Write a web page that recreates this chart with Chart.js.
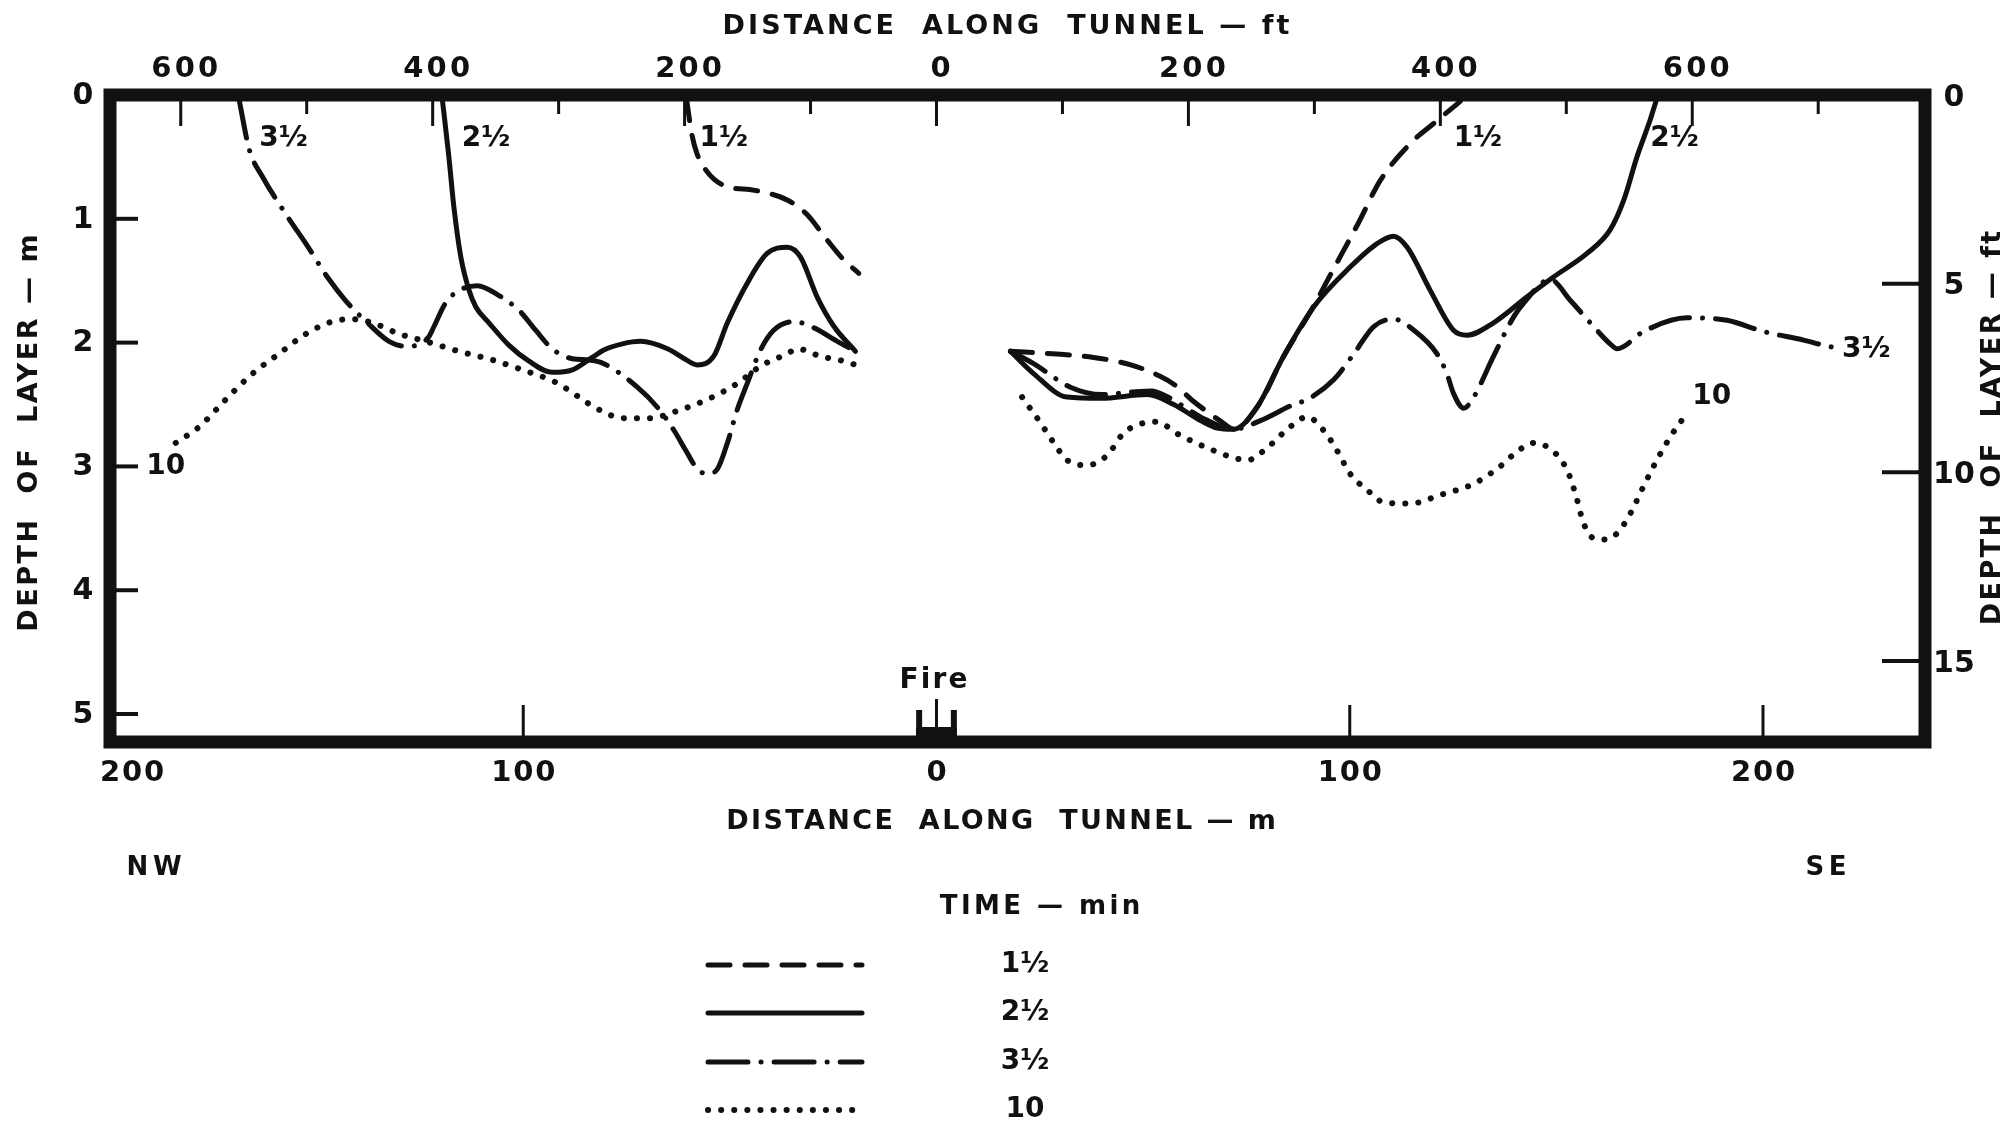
<!DOCTYPE html>
<html>
<head>
<meta charset="utf-8">
<script src="https://cdn.jsdelivr.net/npm/chart.js@4.4.1/dist/chart.umd.min.js"></script>
<style>
  html, body { margin: 0; padding: 0; background: #fff; }
  #wrap { width: 2013px; height: 1129px; }
</style>
</head>
<body>
<div id="wrap"><canvas id="chart" width="2013" height="1129"></canvas></div>
<script>
// distance along tunnel (m, NW negative) and depth of layer (m)
const FT = 3.28084
const X_MIN = -200
const X_MAX = 239.2
const Y_MAX = 5.226

// 1 1/2 min
const t15NwX = [-60.5, -59.3, -58, -55.5, -51.5, -44, -36, -31.5, -26.5, -22.5, -18.8]
const t15NwY = [0.03, 0.3, 0.47, 0.62, 0.73, 0.77, 0.85, 0.96, 1.17, 1.33, 1.44]
const t15SeX = [17.9, 28, 38, 47, 54, 58, 62, 66, 69, 72, 78, 84, 91, 96, 102, 107.4, 114.7, 120.3, 126.8]
const t15SeY = [2.07, 2.09, 2.12, 2.18, 2.27, 2.35, 2.47, 2.57, 2.64, 2.7, 2.5, 2.11, 1.72, 1.41, 1.04, 0.69, 0.39, 0.23, 0.05]

// 2 1/2 min
const t25NwX = [-119.6, -118, -116.8, -115.1, -113.1, -111.5, -108.3, -103.5, -98.6, -93, -88.1, -83.3, -80.5, -76, -71.6, -65.1, -61, -57.9, -53.9, -50.6, -45.8, -41, -36.1, -32.9, -28.9, -24.8, -19.6]
const t25NwY = [0.03, 0.5, 0.9, 1.31, 1.58, 1.71, 1.84, 2.02, 2.15, 2.24, 2.22, 2.12, 2.06, 2.01, 1.99, 2.05, 2.13, 2.18, 2.11, 1.84, 1.52, 1.28, 1.23, 1.31, 1.63, 1.87, 2.07]
const t25SeX = [17.9, 23.5, 31.6, 39.7, 51, 57.4, 63.9, 67.9, 71.9, 77.6, 84, 91.3, 100.1, 106.6, 110.6, 113.9, 119.5, 125.1, 128.4, 134.8, 142.9, 149.3, 157.4, 163, 166.3, 169.5, 172.7, 174.3]
const t25SeY = [2.07, 2.25, 2.44, 2.45, 2.42, 2.5, 2.63, 2.69, 2.7, 2.52, 2.11, 1.71, 1.39, 1.2, 1.14, 1.23, 1.58, 1.9, 1.94, 1.84, 1.63, 1.47, 1.28, 1.09, 0.85, 0.5, 0.2, 0.03]

// 3 1/2 min
const t35NwX = [-168.8, -166.3, -163.1, -157.1, -152.6, -147.4, -143, -137.7, -132.5, -128.4, -125.6, -122.8, -121.6, -118.8, -115.6, -111.1, -105.9, -101, -97, -93, -88.1, -84.1, -80.5, -72.4, -67.6, -63.5, -60.7, -57.9, -55.5, -53, -50.6, -48.2, -45.8, -42.6, -39.4, -34.5, -29.7, -24, -19.6]
const t35NwY = [0.03, 0.44, 0.66, 0.98, 1.2, 1.47, 1.66, 1.84, 1.99, 2.03, 2.02, 1.95, 1.87, 1.68, 1.58, 1.54, 1.62, 1.74, 1.9, 2.05, 2.13, 2.14, 2.17, 2.36, 2.52, 2.71, 2.87, 3.02, 3.06, 3.02, 2.81, 2.54, 2.33, 2.06, 1.9, 1.83, 1.88, 1.99, 2.07]
const t35SeX = [17.9, 23.5, 32.4, 40, 47, 52, 56, 60, 65, 71.9, 78.4, 86.4, 89.7, 96.1, 101, 105.8, 110.6, 115.5, 121.1, 123.5, 125.1, 127.6, 130, 134.8, 139.7, 142.1, 148.5, 153.4, 158.2, 163, 164.7, 171.1, 181.6, 191.3, 200.1, 209.8, 215.8, 219.5]
const t35SeY = [2.07, 2.17, 2.36, 2.42, 2.4, 2.39, 2.44, 2.52, 2.62, 2.7, 2.63, 2.5, 2.46, 2.3, 2.09, 1.87, 1.81, 1.9, 2.09, 2.25, 2.41, 2.53, 2.44, 2.11, 1.79, 1.68, 1.49, 1.66, 1.84, 2.01, 2.05, 1.91, 1.8, 1.82, 1.91, 1.98, 2.03, 2.05]

// 10 min
const t10NwX = [-184.1, -178.4, -172, -165.5, -159.1, -152.6, -146.2, -141.3, -136.5, -130, -123.6, -115.6, -107.5, -100.2, -92.2, -86.5, -82.9, -75.6, -69.2, -63.5, -55.5, -48.2, -42.6, -36.1, -33.7, -28.1, -22.4, -19.6]
const t10NwY = [2.81, 2.68, 2.46, 2.25, 2.09, 1.93, 1.83, 1.81, 1.84, 1.93, 1.99, 2.07, 2.14, 2.22, 2.32, 2.44, 2.52, 2.61, 2.61, 2.56, 2.46, 2.33, 2.19, 2.09, 2.05, 2.11, 2.15, 2.18]
const t10SeX = [20.7, 25.2, 28.4, 31.6, 36.5, 41.3, 45.3, 50.1, 53, 59, 65.5, 71.9, 75.2, 80, 85.6, 89.7, 93.7, 96.9, 100.1, 104.2, 108.2, 114.7, 121.9, 130, 136.4, 140.5, 144.5, 149.3, 152.6, 154.6, 156.6, 159, 161.8, 164.7, 167.9, 171.1, 174.3, 177.6, 181.6]
const t10SeY = [2.44, 2.65, 2.81, 2.95, 2.99, 2.91, 2.73, 2.65, 2.64, 2.75, 2.85, 2.93, 2.95, 2.85, 2.68, 2.6, 2.71, 2.87, 3.06, 3.19, 3.29, 3.3, 3.23, 3.14, 3.0, 2.88, 2.81, 2.88, 3.03, 3.22, 3.46, 3.58, 3.59, 3.54, 3.38, 3.16, 2.95, 2.76, 2.57]

// ticks and labels
const topTicksFt = [-600, -500, -400, -300, -200, -100, 0, 100, 200, 300, 400, 500, 600, 700]
const topLabelsFt = [-600, -400, -200, 0, 200, 400, 600]
const bottomTicksM = [-100, 100, 200]
const bottomLabelsM = [-200, -100, 0, 100, 200]
const leftTicksM = [1, 2, 3, 4, 5]
const leftLabelsM = [0, 1, 2, 3, 4, 5]
const rightTicksFt = [5, 10, 15]
const rightLabelsFt = [0, 5, 10, 15]
const timeLabels = ['1½', '2½', '3½', '10']

const FONT = '"DejaVu Sans", sans-serif'
const INK = '#111'

function pts(xs, ys) {
    return xs.map((x, i) => ({ x: x, y: ys[i] }))
}

const styles = [
    { borderWidth: 5, borderDash: [22, 15], borderCapStyle: 'round' },
    { borderWidth: 5, borderDash: [], borderCapStyle: 'round' },
    { borderWidth: 5, borderDash: [40, 13, 0.1, 13], borderCapStyle: 'round' },
    { borderWidth: 6, borderDash: [0.1, 13], borderCapStyle: 'round' },
]

function series(label, data, st) {
    return {
        label: label, data: data, borderColor: INK, backgroundColor: INK,
        borderWidth: st.borderWidth, borderDash: st.borderDash, borderCapStyle: st.borderCapStyle,
        borderJoinStyle: 'round', pointRadius: 0, fill: false,
        cubicInterpolationMode: 'monotone', xAxisID: 'x', yAxisID: 'y'
    }
}

function spacedText(ctx, text, x, y, size, width, angle) {
    ctx.save()
    ctx.translate(x, y)
    if (angle) ctx.rotate(angle)
    ctx.font = `bold ${size}px ${FONT}`
    ctx.textAlign = 'center'
    ctx.textBaseline = 'middle'
    ctx.fillStyle = INK
    if (width && 'letterSpacing' in ctx) {
        ctx.letterSpacing = '0px'
        const w = ctx.measureText(text).width
        const ls = (width - w) / text.length
        ctx.letterSpacing = ls + 'px'
        ctx.translate(ls / 2, 0)
    }
    ctx.fillText(text, 0, 0)
    ctx.restore()
}

const decor = {
    id: 'decor',
    beforeDraw(chart) {
        const ctx = chart.ctx
        ctx.save()
        ctx.fillStyle = '#fff'
        ctx.fillRect(0, 0, chart.width, chart.height)
        ctx.restore()
    },
    afterDraw(chart) {
        const ctx = chart.ctx
        const a = chart.chartArea
        const sx = chart.scales.x, sy = chart.scales.y
        const sxf = chart.scales.xft, syf = chart.scales.yft
        ctx.save()
        ctx.strokeStyle = INK
        ctx.lineCap = 'butt'

        // frame
        ctx.lineWidth = 13
        ctx.strokeRect(a.left, a.top, a.right - a.left, a.bottom - a.top)

        // inward ticks
        ctx.lineWidth = 3
        topTicksFt.forEach(v => {
            const px = sxf.getPixelForValue(v)
            const len = v % 200 === 0 ? 31 : 19
            ctx.beginPath(); ctx.moveTo(px, a.top); ctx.lineTo(px, a.top + len); ctx.stroke()
        })
        bottomTicksM.forEach(v => {
            const px = sx.getPixelForValue(v)
            ctx.beginPath(); ctx.moveTo(px, a.bottom); ctx.lineTo(px, a.bottom - 37); ctx.stroke()
        })
        ctx.lineWidth = 4
        leftTicksM.forEach(v => {
            const py = sy.getPixelForValue(v)
            ctx.beginPath(); ctx.moveTo(a.left, py); ctx.lineTo(a.left + 28, py); ctx.stroke()
        })
        rightTicksFt.forEach(v => {
            const py = syf.getPixelForValue(v)
            ctx.beginPath(); ctx.moveTo(a.right, py); ctx.lineTo(a.right - 43, py); ctx.stroke()
        })

        // fire marker at 0 m
        const f0 = sx.getPixelForValue(0)
        const fl = sx.getPixelForValue(-4.2), fr = sx.getPixelForValue(4.2)
        ctx.lineWidth = 3
        ctx.beginPath(); ctx.moveTo(f0, a.bottom); ctx.lineTo(f0, a.bottom - 43); ctx.stroke()
        ctx.lineWidth = 6
        ctx.beginPath(); ctx.moveTo(fl, a.bottom); ctx.lineTo(fl, a.bottom - 32); ctx.stroke()
        ctx.beginPath(); ctx.moveTo(fr, a.bottom); ctx.lineTo(fr, a.bottom - 32); ctx.stroke()
        ctx.fillStyle = INK
        ctx.fillRect(fl - 3, a.bottom - 15, fr - fl + 6, 15)
        spacedText(ctx, 'Fire', f0 - 3, a.bottom - 61, 28, 70)

        // tick labels
        topLabelsFt.forEach(v => {
            spacedText(ctx, String(Math.abs(v)), sxf.getPixelForValue(v) + 4, a.top - 26, 29, v === 0 ? 0 : 70)
        })
        bottomLabelsM.forEach(v => {
            const px = Math.max(sx.getPixelForValue(v), a.left + 22)
            spacedText(ctx, String(Math.abs(v)), px, a.bottom + 31, 29, v === 0 ? 0 : 66)
        })
        leftLabelsM.forEach(v => {
            spacedText(ctx, String(v), a.left - 27, sy.getPixelForValue(v) + 1, 30)
        })
        rightLabelsFt.forEach(v => {
            spacedText(ctx, String(v), a.right + 29, syf.getPixelForValue(v) + 3, 30, v >= 10 ? 42 : 0)
        })

        // axis titles
        spacedText(ctx, 'DISTANCE  ALONG  TUNNEL — ft', 1006, 27, 27, 570)
        spacedText(ctx, 'DISTANCE  ALONG  TUNNEL — m', 1001, 822, 27, 552)
        spacedText(ctx, 'DEPTH  OF  LAYER — m', 30, 433, 27, 400, -Math.PI / 2)
        spacedText(ctx, 'DEPTH  OF  LAYER — ft', 1993, 428, 27, 397, -Math.PI / 2)
        spacedText(ctx, 'NW', 154, 868, 26, 60)
        spacedText(ctx, 'SE', 1826, 868, 26, 46)

        // curve labels
        const lab = (t, xm, ym) => spacedText(ctx, t, sx.getPixelForValue(xm), sy.getPixelForValue(ym), 28)
        lab('3½', -158, 0.35)
        lab('2½', -109, 0.35)
        lab('1½', -51.5, 0.35)
        lab('10', -186.5, 3.0)
        lab('1½', 131, 0.35)
        lab('2½', 178.6, 0.35)
        lab('3½', 225, 2.06)
        lab('10', 187.6, 2.44)

        // legend
        spacedText(ctx, 'TIME — min', 1040, 907, 26, 204)
        const rows = [965, 1013, 1062, 1110]
        chart.data.datasets.slice(0, 4).forEach((ds, i) => {
            ctx.save()
            ctx.lineWidth = ds.borderWidth
            ctx.lineCap = ds.borderCapStyle
            ctx.setLineDash(ds.borderDash)
            ctx.beginPath(); ctx.moveTo(708, rows[i]); ctx.lineTo(862, rows[i]); ctx.stroke()
            ctx.restore()
            spacedText(ctx, timeLabels[i], 1025, rows[i], 28)
        })
        ctx.restore()
    }
}

new Chart(document.getElementById('chart'), {
    type: 'line',
    data: {
        datasets: [
            series('1½ NW', pts(t15NwX, t15NwY), styles[0]),
            series('2½ NW', pts(t25NwX, t25NwY), styles[1]),
            series('3½ NW', pts(t35NwX, t35NwY), styles[2]),
            series('10 NW', pts(t10NwX, t10NwY), styles[3]),
            series('1½ SE', pts(t15SeX, t15SeY), styles[0]),
            series('2½ SE', pts(t25SeX, t25SeY), styles[1]),
            series('3½ SE', pts(t35SeX, t35SeY), styles[2]),
            series('10 SE', pts(t10SeX, t10SeY), styles[3]),
        ]
    },
    options: {
        responsive: false,
        devicePixelRatio: 1,
        animation: false,
        layout: { padding: { left: 110, right: 88, top: 95, bottom: 387 } },
        plugins: { legend: { display: false }, tooltip: { enabled: false } },
        scales: {
            x: { type: 'linear', min: X_MIN, max: X_MAX, display: false },
            y: { type: 'linear', min: 0, max: Y_MAX, reverse: true, display: false },
            xft: { type: 'linear', axis: 'x', min: X_MIN * FT, max: X_MAX * FT, display: false },
            yft: { type: 'linear', axis: 'y', min: 0, max: Y_MAX * FT, reverse: true, display: false },
        }
    },
    plugins: [decor]
})
</script>
</body>
</html>
